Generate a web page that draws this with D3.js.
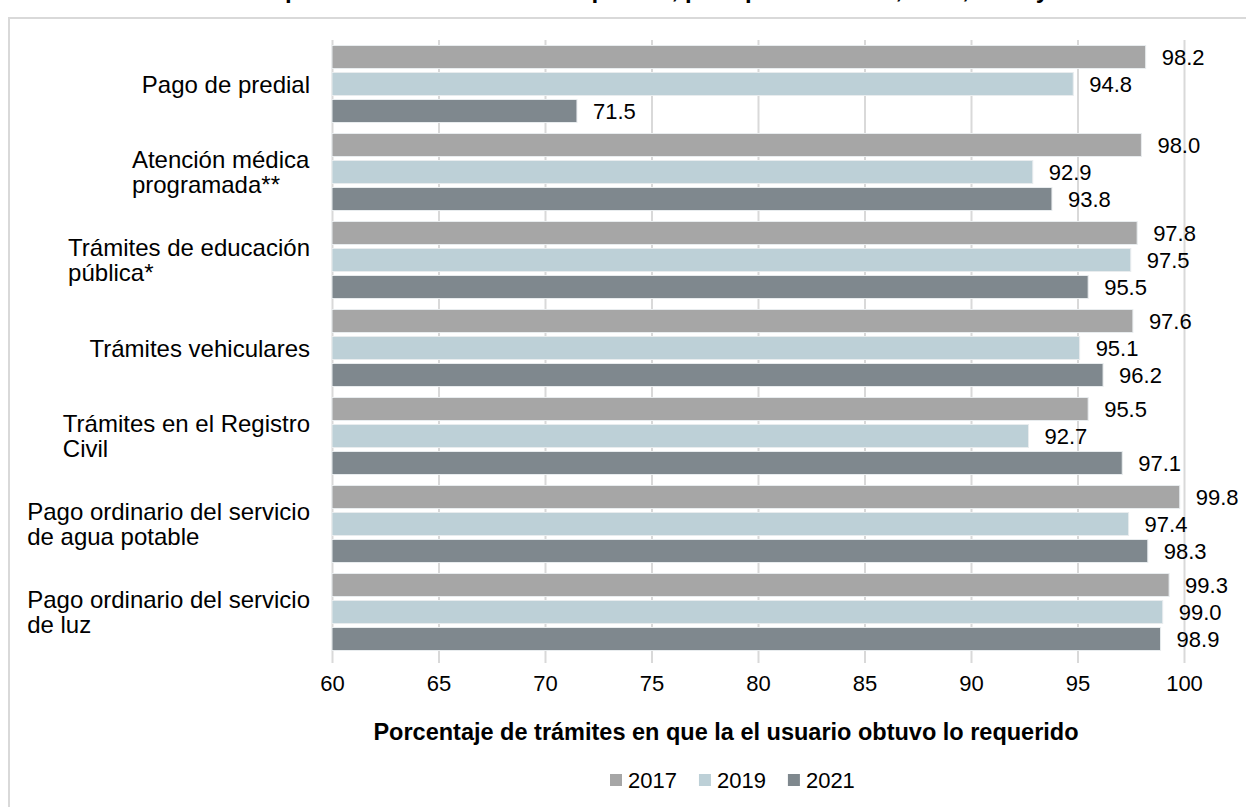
<!DOCTYPE html>
<html>
<head>
<meta charset="utf-8">
<script src="https://cdn.jsdelivr.net/npm/d3@7"></script>
<style>
  html, body { margin: 0; padding: 0; background: #fff; }
  svg { display: block; font-family: Arial, "Liberation Sans", sans-serif; }
</style>
</head>
<body>
<svg id="chart" width="1246" height="807"></svg>
<script>
const categories = [
  "Pago de predial",
  "Atención médica programada**",
  "Trámites de educación pública*",
  "Trámites vehiculares",
  "Trámites en el Registro Civil",
  "Pago ordinario del servicio de agua potable",
  "Pago ordinario del servicio de luz"
];
const categoryLines = [
  ["Pago de predial"],
  ["Atención médica", "programada**"],
  ["Trámites de educación", "pública*"],
  ["Trámites vehiculares"],
  ["Trámites en el Registro", "Civil"],
  ["Pago ordinario del servicio", "de agua potable"],
  ["Pago ordinario del servicio", "de luz"]
];
const years = ["2017", "2019", "2021"];
const values2017 = [98.2, 98.0, 97.8, 97.6, 95.5, 99.8, 99.3];
const values2019 = [94.8, 92.9, 97.5, 95.1, 92.7, 97.4, 99.0];
const values2021 = [71.5, 93.8, 95.5, 96.2, 97.1, 98.3, 98.9];
const tickValues = [60, 65, 70, 75, 80, 85, 90, 95, 100];
const colors = ["#A6A6A6", "#BDD0D7", "#7F888E"];
const titleText = "Trámites en que el usuario obtuvo lo requerido, por tipo de trámite, 2017, 2019 y 2021";
const axisTitle = "Porcentaje de trámites en que la el usuario obtuvo lo requerido";

const FS = 22;
const CFS = 24;
const series = [values2017, values2019, values2021];
const data = categories.map((c, i) => ({
  cat: c, lines: categoryLines[i],
  vals: years.map((y, j) => ({ year: y, value: series[j][i], color: colors[j] }))
}));

const svg = d3.select("#chart");

// outer frame
svg.append("rect").attr("x", 9).attr("y", 18).attr("width", 1300).attr("height", 900)
  .attr("fill", "none").attr("stroke", "#D9D9D9").attr("stroke-width", 2);

// clipped title (only descenders visible in the reference)
svg.append("text").attr("x", 623).attr("y", -2.5).attr("text-anchor", "middle")
  .attr("font-weight", "bold").attr("font-size", 24).attr("fill", "#000").text(titleText);

const x = d3.scaleLinear().domain([60, 100]).range([332, 1184]);
const y0 = d3.scaleBand().domain(categories).range([40, 656]).paddingInner(0.125).paddingOuter(0.0625);
const y1 = d3.scaleBand().domain(years).range([0, y0.bandwidth()]).paddingInner(0.148);

// grid lines + tick labels
const gAxis = svg.append("g").attr("transform", "translate(0,657)")
  .call(d3.axisBottom(x).tickValues(tickValues).tickSize(-617).tickSizeOuter(0).tickPadding(18).tickFormat(d3.format("d")));
gAxis.select(".domain").remove();
gAxis.selectAll(".tick line").attr("stroke", "#D9D9D9").attr("stroke-width", 2).attr("y2", 6).attr("y1", -617);
gAxis.selectAll(".tick text").attr("font-size", FS).attr("fill", "#000").attr("font-family", "Arial, 'Liberation Sans', sans-serif");

// bars
const groups = svg.append("g").selectAll("g").data(data).join("g")
  .attr("transform", d => `translate(0,${y0(d.cat)})`);
groups.selectAll("rect").data(d => d.vals).join("rect")
  .attr("x", x(60))
  .attr("y", d => y1(d.year))
  .attr("width", d => x(d.value) - x(60))
  .attr("height", y1.bandwidth())
  .attr("fill", d => d.color)
  .attr("stroke", "#E8ECEE").attr("stroke-width", 1);
groups.selectAll("text.val").data(d => d.vals).join("text").attr("class", "val")
  .attr("x", d => x(d.value) + 16)
  .attr("y", d => y1(d.year) + y1.bandwidth() / 2)
  .attr("dy", "0.36em")
  .attr("font-size", FS).attr("fill", "#000")
  .text(d => d3.format(".1f")(d.value));

// category labels (block right-aligned, lines left-aligned)
const catG = svg.append("g");
data.forEach(d => {
  const cy = y0(d.cat) + y0.bandwidth() / 2;
  const n = d.lines.length;
  const t = catG.append("text").attr("font-size", CFS).attr("fill", "#000");
  d.lines.forEach((ln, k) => {
    t.append("tspan").attr("x", 0).attr("y", cy + (k - (n - 1) / 2) * 25).attr("dy", "0.36em").text(ln);
  });
  const w = t.node().getBBox().width;
  t.selectAll("tspan").attr("x", 310 - w);
});

// axis title
svg.append("text").attr("x", 726).attr("y", 732).attr("dy", "0.36em").attr("text-anchor", "middle")
  .attr("font-weight", "bold").attr("font-size", 23.5).attr("fill", "#000").text(axisTitle);

// legend
const legend = svg.append("g").attr("transform", "translate(610,780)");
let lx = 0;
years.forEach((yr, j) => {
  const g = legend.append("g").attr("transform", `translate(${lx},0)`);
  g.append("rect").attr("x", 0).attr("y", -6).attr("width", 12).attr("height", 12).attr("fill", colors[j]);
  const tt = g.append("text").attr("x", 18).attr("dy", "0.36em").attr("font-size", FS).attr("fill", "#000").text(yr);
  lx += 18 + tt.node().getComputedTextLength() + 22;
});
</script>
</body>
</html>
